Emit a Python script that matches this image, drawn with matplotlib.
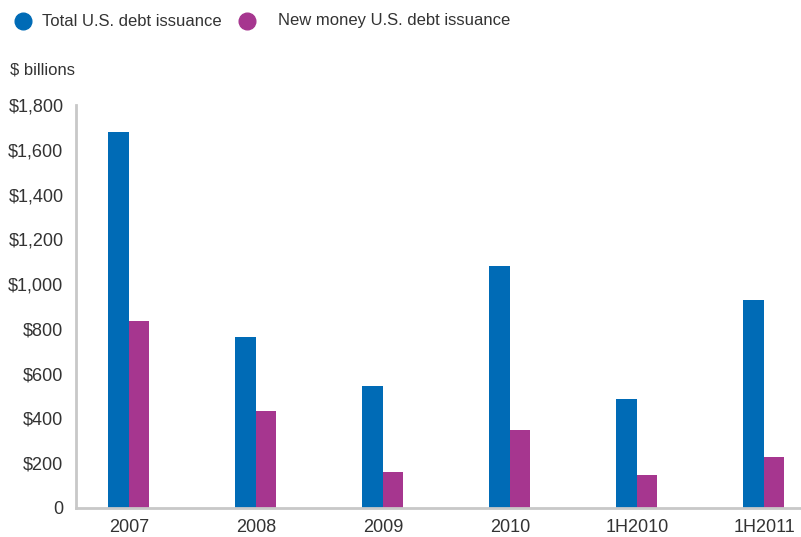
import matplotlib
matplotlib.use("Agg")
import matplotlib.pyplot as plt
import numpy as np
from matplotlib.lines import Line2D

plt.rcParams['font.family'] = ['Liberation Sans', 'DejaVu Sans']

categories = ["2007", "2008", "2009", "2010", "1H2010", "1H2011"]
total_issuance = [1680, 762, 546, 1082, 488, 930]
new_money_issuance = [836, 435, 162, 350, 149, 229]
y_ticks = [0, 200, 400, 600, 800, 1000, 1200, 1400, 1600, 1800]
y_tick_labels = ["0", "$200", "$400", "$600", "$800", "$1,000", "$1,200",
                 "$1,400", "$1,600", "$1,800"]
series_names = ["Total U.S. debt issuance", "New money U.S. debt issuance"]

blue = "#006bb6"
purple = "#a6368f"
text_color = "#333333"
axis_color = "#c8c8c8"

W, H = 801, 537
fig = plt.figure(figsize=(W / 100, H / 100), dpi=100)
ax = fig.add_axes([76 / W, 29 / H, 1 - 76 / W, (508 - 105) / H])

x = np.arange(len(categories))
w = 0.165
ax.bar(x, total_issuance, width=-w, align="edge", color=blue, linewidth=0)
ax.bar(x, new_money_issuance, width=w * 0.95, align="edge", color=purple,
       linewidth=0)

ax.set_xlim(-0.417, 5.29)
ax.set_ylim(0, 1800)
ax.set_xticks(x)
ax.set_xticklabels(categories)
ax.set_yticks(y_ticks)
ax.set_yticklabels(y_tick_labels)
ax.tick_params(length=0, labelsize=13, colors=text_color)
ax.tick_params(axis='y', pad=9)
ax.tick_params(axis='x', pad=8)

for side in ("top", "right"):
    ax.spines[side].set_visible(False)
for side in ("left", "bottom"):
    ax.spines[side].set_color(axis_color)
    ax.spines[side].set_linewidth(2)

fig.text(10 / W, 1 - 70 / H, "$ billions", fontsize=12, color=text_color,
         va="center", ha="left")

# legend: colored dots followed by series names
legend_items = [(22.5, 42, blue, series_names[0]),
                (247, 278, purple, series_names[1])]
for dot_x, text_x, color, name in legend_items:
    fig.add_artist(Line2D([dot_x / W], [1 - 21 / H], marker="o",
                          linestyle="none", markersize=12,
                          markerfacecolor=color, markeredgecolor=color,
                          transform=fig.transFigure))
    fig.text(text_x / W, 1 - 21 / H, name, fontsize=12, color=text_color,
             va="center", ha="left")

fig.savefig("out.png", dpi=100)
